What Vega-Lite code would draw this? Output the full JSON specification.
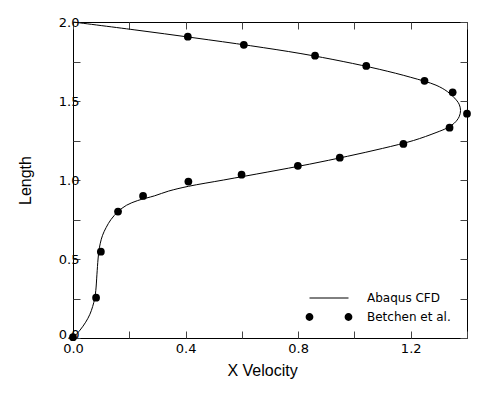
{
  "$schema": "https://vega.github.io/schema/vega-lite/v6.json",
  "width": 394,
  "height": 316,
  "padding": {"left": 17, "top": 16, "right": 31, "bottom": 5},
  "background": "white",
  "config": {
    "view": {"stroke": "black", "strokeWidth": 1},
    "axis": {
      "domain": false,
      "grid": false,
      "labelFlush": false,
      "labelFont": "DejaVu Sans",
      "labelFontSize": 13,
      "labelColor": "black",
      "tickColor": "#444",
      "tickSize": -7,
      "titleFont": "Liberation Sans",
      "titleFontSize": 16,
      "titleFontWeight": "normal",
      "titleColor": "black"
    }
  },
  "datasets": {
    "cfd": [
      {"x": 0.0, "y": 0.0}, {"x": 0.025, "y": 0.05}, {"x": 0.045, "y": 0.1}, {"x": 0.06, "y": 0.15},
      {"x": 0.07, "y": 0.2}, {"x": 0.077, "y": 0.25}, {"x": 0.081, "y": 0.3}, {"x": 0.085, "y": 0.4},
      {"x": 0.089, "y": 0.5}, {"x": 0.092, "y": 0.55}, {"x": 0.097, "y": 0.6}, {"x": 0.105, "y": 0.65},
      {"x": 0.118, "y": 0.7}, {"x": 0.135, "y": 0.75}, {"x": 0.16, "y": 0.8}, {"x": 0.19, "y": 0.84},
      {"x": 0.23, "y": 0.87}, {"x": 0.29, "y": 0.9}, {"x": 0.34, "y": 0.93}, {"x": 0.41, "y": 0.96},
      {"x": 0.535, "y": 1.0}, {"x": 0.69, "y": 1.05}, {"x": 0.84, "y": 1.1}, {"x": 0.975, "y": 1.15},
      {"x": 1.1, "y": 1.2}, {"x": 1.21, "y": 1.25}, {"x": 1.29, "y": 1.3}, {"x": 1.33, "y": 1.33},
      {"x": 1.355, "y": 1.36}, {"x": 1.372, "y": 1.4}, {"x": 1.377, "y": 1.44}, {"x": 1.372, "y": 1.48},
      {"x": 1.355, "y": 1.52}, {"x": 1.33, "y": 1.56}, {"x": 1.29, "y": 1.6}, {"x": 1.2, "y": 1.65},
      {"x": 1.09, "y": 1.7}, {"x": 0.96, "y": 1.75}, {"x": 0.81, "y": 1.8}, {"x": 0.63, "y": 1.85},
      {"x": 0.43, "y": 1.9}, {"x": 0.22, "y": 1.95}, {"x": 0.0, "y": 2.0}
    ],
    "exp": [
      {"x": 0.0, "y": 0.005}, {"x": 0.082, "y": 0.255}, {"x": 0.099, "y": 0.546}, {"x": 0.16, "y": 0.8},
      {"x": 0.249, "y": 0.899}, {"x": 0.41, "y": 0.99}, {"x": 0.599, "y": 1.034}, {"x": 0.799, "y": 1.09},
      {"x": 0.948, "y": 1.141}, {"x": 1.174, "y": 1.228}, {"x": 1.338, "y": 1.331}, {"x": 1.4, "y": 1.42},
      {"x": 1.349, "y": 1.555}, {"x": 1.249, "y": 1.628}, {"x": 1.042, "y": 1.722}, {"x": 0.86, "y": 1.787},
      {"x": 0.607, "y": 1.856}, {"x": 0.408, "y": 1.907}
    ]
  },
  "resolve": {"axis": {"x": "independent", "y": "independent"}},
  "layer": [
    {
      "data": {"name": "cfd"},
      "mark": {"type": "line", "strokeWidth": 1, "interpolate": "catmull-rom"},
      "encoding": {
        "x": {
          "field": "x", "type": "quantitative",
          "scale": {"domain": [0, 1.4], "nice": false, "zero": false},
          "axis": {
            "orient": "bottom",
            "title": "X Velocity",
            "titleX": 189,
            "values": [0, 0.2, 0.4, 0.6, 0.8, 1.0, 1.2, 1.4],
            "labelExpr": "round(datum.value * 10) % 4 == 0 ? format(datum.value, '.1f') : ''",
            "labelPadding": 11,
            "titlePadding": 7
          }
        },
        "y": {
          "field": "y", "type": "quantitative",
          "scale": {"domain": [0, 2], "nice": false, "zero": false},
          "axis": {
            "orient": "left",
            "title": "Length",
            "values": [0, 0.25, 0.5, 0.75, 1.0, 1.25, 1.5, 1.75, 2.0],
            "labelExpr": "round(datum.value * 100) % 50 == 0 ? format(datum.value, '.1f') : ''",
            "labelOffset": {"condition": {"test": "datum.value == 0", "value": -4}, "value": 0},
            "labelPadding": 1,
            "titlePadding": 25
          }
        },
        "order": {"field": "y", "type": "quantitative"},
        "color": {
          "datum": "Abaqus CFD",
          "type": "nominal",
          "scale": {"domain": ["Abaqus CFD", "Betchen et al."], "range": ["black", "black"]},
          "legend": {
            "title": null,
            "orient": "none",
            "legendX": 250,
            "legendY": 270,
            "padding": 0,
            "symbolSize": 1521,
            "symbolStrokeWidth": 1,
            "labelFont": "DejaVu Sans",
            "labelFontSize": 12,
            "labelColor": "black",
            "labelOffset": 32,
            "rowPadding": 7,
            "encode": {
              "symbols": {
                "update": {
                  "shape": {"signal": "datum.value === 'Abaqus CFD' ? 'stroke' : 'M-0.8,0A0.2,0.2,0,1,1,-1.2,0A0.2,0.2,0,1,1,-0.8,0ZM1.2,0A0.2,0.2,0,1,1,0.8,0A0.2,0.2,0,1,1,1.2,0Z'"},
                  "fill": {"value": "black"},
                  "stroke": {"value": "black"},
                  "strokeWidth": {"signal": "datum.value === 'Abaqus CFD' ? 1 : 0"},
                  "opacity": {"value": 1}
                }
              }
            }
          }
        }
      }
    },
    {
      "data": {"name": "exp"},
      "mark": {"type": "point", "filled": true, "size": 60, "opacity": 1},
      "encoding": {
        "x": {
          "field": "x", "type": "quantitative",
          "axis": {
            "orient": "top",
            "title": null,
            "labels": false,
            "values": [0, 0.2, 0.4, 0.6, 0.8, 1.0, 1.2, 1.4]
          }
        },
        "y": {
          "field": "y", "type": "quantitative",
          "axis": {
            "orient": "right",
            "title": null,
            "labels": false,
            "values": [0, 0.25, 0.5, 0.75, 1.0, 1.25, 1.5, 1.75, 2.0]
          }
        },
        "color": {"datum": "Betchen et al.", "type": "nominal"}
      }
    }
  ]
}
